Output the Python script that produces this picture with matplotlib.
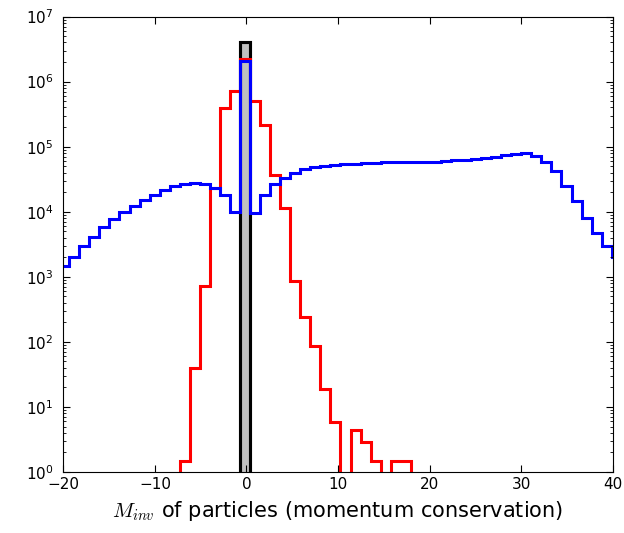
import numpy as np
import matplotlib
matplotlib.use('Agg')
import matplotlib.pyplot as plt

plt.rcParams['mathtext.fontset'] = 'cm'

# histogram binning (bins of ~1.1 wide, first edge left of the view)
bin_start = -20.45
bin_width = 1.097
n_bins = 56

# blue: all particles
blue_counts = [1450, 2000, 3000, 4100, 5750, 7750, 9800, 12300, 15100, 18200,
               21400, 24500, 26900, 27500, 26300, 23400, 18200, 10000, 2.04e6, 9550,
               18200, 26300, 33100, 39800, 44700, 47900, 50100, 52500, 53700, 55000,
               56200, 56200, 57500, 57500, 57500, 58900, 58900, 58900, 60300, 61700,
               63100, 64600, 66100, 69200, 74100, 77600, 79400, 72400, 58900, 41700,
               25100, 14500, 7900, 4700, 2950, 2000]

# red: selected particles
red_counts = [0, 0, 0, 0, 0, 0, 0, 0, 0, 0,
              0, 0, 1.47, 40, 725, 23400, 389000, 708000, 2.24e6, 501000,
              219000, 37200, 11500, 850, 240, 87, 18.6, 5.9, 0, 4.4,
              2.9, 1.47, 0, 1.47, 1.47, 0, 0, 0, 0, 0,
              0, 0, 0, 0, 0, 0, 0, 0, 0, 0,
              0, 0, 0, 0, 0, 0]

# gray: exact momentum conservation
gray_counts = [0] * n_bins
gray_counts[18] = 4.0e6

edges = bin_start + bin_width * np.arange(n_bins + 1)

fig = plt.figure(figsize=(6.24, 5.33), dpi=100)
ax = fig.add_axes([0.1015, 0.1144, 0.8805, 0.8546])
ax.set_yscale('log', nonpositive='clip')

ax.stairs(gray_counts, edges, fill=True, facecolor='#c0c0c0', edgecolor='black', linewidth=2.2)
ax.stairs(gray_counts, edges, color='black', linewidth=2.2)
ax.stairs(red_counts, edges, color='red', linewidth=2.2)
ax.stairs(blue_counts, edges, color='blue', linewidth=2.2)

ax.set_xlim(-20, 40)
ax.set_ylim(1, 1e7)
ax.set_xticks([-20, -10, 0, 10, 20, 30, 40])
ax.tick_params(which='both', direction='in', top=True, right=True, labelsize=11)
ax.tick_params(which='major', length=5)
ax.tick_params(which='minor', length=2.5)
ax.tick_params(axis='y', which='major', pad=7)
ax.set_xlabel(r'$M_{inv}$ of particles (momentum conservation)', fontsize=15, labelpad=5)

fig.savefig('out.png', dpi=100)
